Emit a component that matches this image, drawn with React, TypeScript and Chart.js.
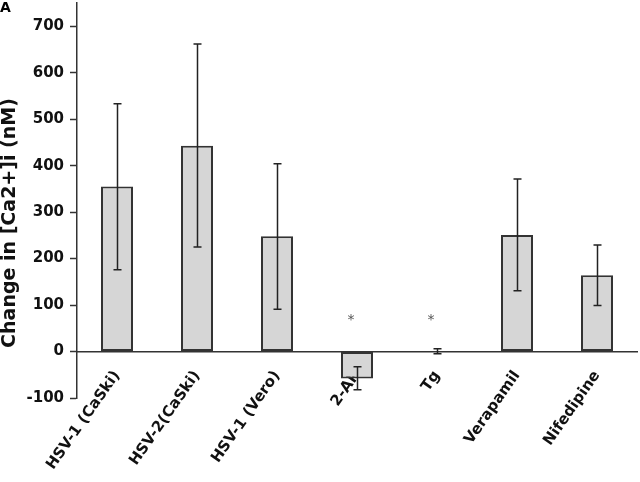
import React, { useEffect, useRef } from "react";
import { Chart, registerables } from "chart.js";

Chart.register(...registerables);

const categories = [
  "HSV-1 (CaSki)",
  "HSV-2(CaSki)",
  "HSV-1 (Vero)",
  "2-AP",
  "Tg",
  "Verapamil",
  "Nifedipine",
];
const values = [355, 443, 248, -58, 1, 251, 164];
const errLow = [176, 225, 91, -82, -5, 131, 99];
const errHigh = [533, 662, 404, -33, 6, 371, 229];
const asteriskValues = [null, null, null, 66, 66, null, null];
const yTitle = "Change in [Ca2+]i (nM)";
const yTicksMin = -100;
const yTicksMax = 750;
const yStep = 100;

const FONT = "'DejaVu Sans', Verdana, sans-serif";

const overlayPlugin = {
  id: "overlay",
  afterDatasetsDraw(chart: any) {
    const ctx = chart.ctx;
    const xs = chart.scales.x;
    const ys = chart.scales.y;
    ctx.save();
    ctx.strokeStyle = "#222";
    ctx.lineWidth = 1.5;
    for (let i = 0; i < categories.length; i++) {
      const x = Math.round(xs.getPixelForValue(i)) + 0.5;
      const y1 = ys.getPixelForValue(errLow[i]);
      const y2 = ys.getPixelForValue(errHigh[i]);
      ctx.beginPath();
      ctx.moveTo(x, y1);
      ctx.lineTo(x, y2);
      ctx.moveTo(x - 4, y1);
      ctx.lineTo(x + 4, y1);
      ctx.moveTo(x - 4, y2);
      ctx.lineTo(x + 4, y2);
      ctx.stroke();
    }
    ctx.fillStyle = "#555";
    ctx.font = `14px ${FONT}`;
    ctx.textAlign = "center";
    ctx.textBaseline = "middle";
    asteriskValues.forEach((v, i) => {
      if (v === null) return;
      ctx.fillText("*", xs.getPixelForValue(i) - 6, ys.getPixelForValue(v));
    });
    // y-axis title
    ctx.fillStyle = "#111";
    ctx.font = `bold 19px ${FONT}`;
    ctx.textAlign = "center";
    ctx.textBaseline = "middle";
    ctx.translate(10, 223);
    ctx.rotate(-Math.PI / 2);
    ctx.fillText(yTitle, 0, 0);
    ctx.setTransform(1, 0, 0, 1, 0, 0);
    ctx.fillStyle = "#000";
    ctx.font = `bold 14px ${FONT}`;
    ctx.textAlign = "left";
    ctx.textBaseline = "top";
    ctx.fillText("A", 0, 1);
    ctx.restore();
  },
};

export default function App() {
  const ref = useRef<HTMLCanvasElement>(null);
  useEffect(() => {
    if (!ref.current) return;
    const chart = new Chart(ref.current, {
      type: "bar",
      data: {
        labels: categories,
        datasets: [
          {
            data: values,
            backgroundColor: "#d6d6d6",
            borderColor: "#333",
            borderWidth: 2,
            borderSkipped: false,
            barPercentage: 0.4,
            categoryPercentage: 1,
          },
        ],
      },
      options: {
        responsive: false,
        animation: false,
        layout: { padding: { left: 0, right: 3, top: 3, bottom: 84 } },
        plugins: { legend: { display: false }, tooltip: { enabled: false } },
        scales: {
          x: {
            position: { y: 0 } as any,
            grid: { display: false, drawTicks: false },
            border: { display: true, color: "#333", width: 1.5 },
            ticks: {
              autoSkip: false,
              minRotation: 55,
              maxRotation: 55,
              padding: 16,
              color: "#111",
              font: { family: FONT, size: 15, weight: "bold" },
            },
          },
          y: {
            min: yTicksMin,
            max: yTicksMax,
            afterBuildTicks: (scale: any) => {
              scale.ticks = scale.ticks.filter((t: any) => t.value <= 700);
            },
            afterFit: (scale: any) => {
              scale.width = 77;
              scale.paddingTop = 0;
              scale.paddingBottom = 0;
            },
            ticks: {
              stepSize: yStep,
              padding: 6,
              color: "#111",
              font: { family: FONT, size: 15, weight: "bold" },
            },
            grid: {
              drawOnChartArea: false,
              tickColor: "#333",
              tickLength: 7,
              tickWidth: 1.5,
            },
            border: { display: true, color: "#333", width: 1.5 },
            title: { display: false },
          },
        },
      },
      plugins: [overlayPlugin],
    });
    return () => chart.destroy();
  }, []);
  return (
    <div style={{ position: "absolute", left: 0, top: 0, width: 640, height: 482, background: "#fff" }}>
      <canvas ref={ref} width={640} height={482} />
    </div>
  );
}
